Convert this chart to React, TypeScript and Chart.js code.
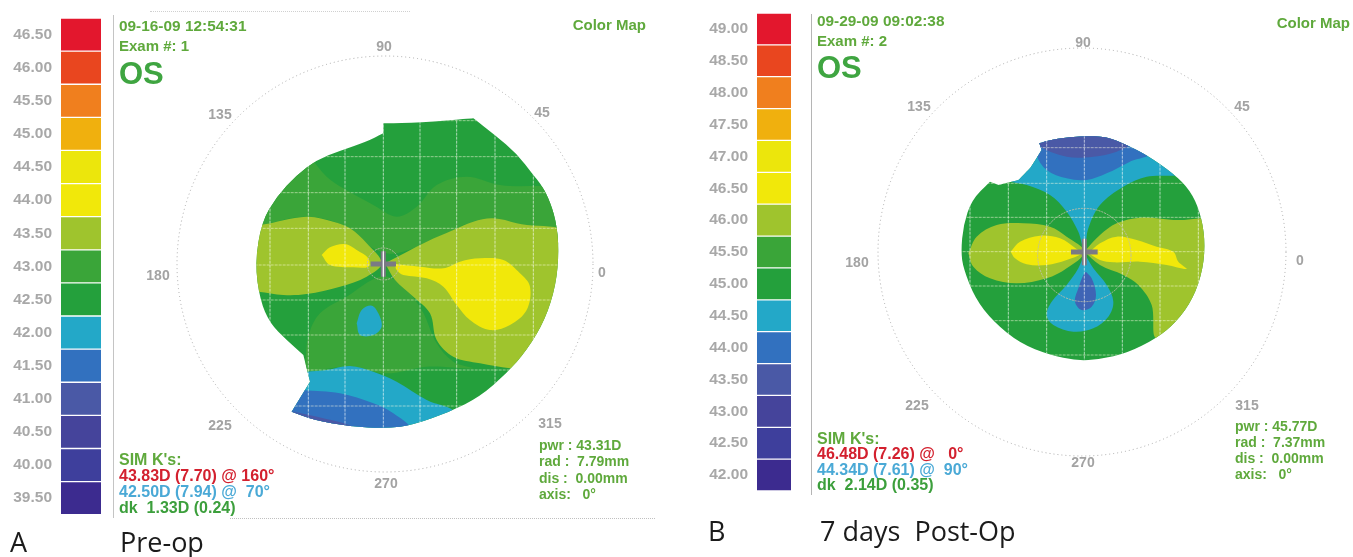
import React, { useEffect, useRef } from "react";
import { Chart, registerables } from "chart.js";

Chart.register(...registerables);

type P = [number, number];

const C = {
  deep: "#3c2b8f", indigo: "#3e3f9c", indigo2: "#45449b", slate: "#4a59a6", blue: "#3271bf", cyan: "#23a8c8",
  dark: "#24a03c", green: "#3aa539", lime: "#9fc42d", yellow: "#f1e80a", yellow2: "#ece60c",
  amber: "#f0b00e", orange: "#f07f1e", redorange: "#e9461f", red: "#e3172d", lowblue: "#3f64b5",
};

// Scale bars
const scaleA = ["46.50", "46.00", "45.50", "45.00", "44.50", "44.00", "43.50", "43.00", "42.50", "42.00", "41.50", "41.00", "40.50", "40.00", "39.50"];
const scaleB = ["49.00", "48.50", "48.00", "47.50", "47.00", "46.50", "46.00", "45.50", "45.00", "44.50", "44.00", "43.50", "43.00", "42.50", "42.00"];
const scaleColors = [C.red, C.redorange, C.orange, C.amber, C.yellow2, C.yellow, C.lime, C.green, C.dark, C.cyan, C.blue, C.slate, C.indigo2, C.indigo, C.deep];

// Bounds of the base colour that the outline clips
const baseField: P[] = [[-100, -100], [1100, -100], [1100, 1100], [-100, 1100]];

// Map A contours (map units); a repeated point is a sharp corner of the outline
const outlineA: P[] = [[430, 40], [430, 40], [540, 38], [700, 25], [700, 25], [765, 75], [830, 130], [880, 195], [900, 219], [924, 260], [948, 330], [957, 420], [948, 525], [915, 630], [861, 720], [800, 790], [720, 860], [630, 905], [520, 945], [440, 955], [330, 950], [220, 930], [155, 905], [155, 905], [210, 815], [210, 815], [190, 735], [190, 735], [140, 690], [90, 640], [60, 570], [45, 460], [65, 335], [110, 260], [170, 195], [230, 150], [300, 122], [380, 95], [430, 70], [430, 70]];
const midUpperA: P[] = [[210, 140], [260, 200], [310, 235], [400, 285], [470, 320], [530, 290], [590, 225], [680, 200], [780, 225], [1000, 250], [1000, 400], [700, 340], [620, 370], [470, 430], [390, 410], [320, 350], [200, 320], [60, 345], [0, 350], [0, 250], [120, 180]];
const midLowerA: P[] = [[195, 785], [205, 680], [240, 610], [320, 560], [420, 500], [480, 520], [545, 600], [590, 700], [640, 755], [700, 775], [560, 770], [440, 790], [330, 770]];
const limeLeftA: P[] = [[-10, 350], [60, 345], [200, 320], [280, 335], [330, 355], [380, 400], [425, 460], [380, 500], [300, 530], [200, 552], [130, 555], [55, 545], [-10, 540]];
const limeRightA: P[] = [[435, 460], [560, 395], [640, 360], [700, 335], [760, 325], [830, 340], [1000, 385], [1000, 800], [810, 775], [720, 760], [640, 740], [590, 690], [570, 610], [520, 560], [465, 510]];
const yellowLeftA: P[] = [[245, 435], [270, 412], [315, 402], [350, 420], [385, 445], [385, 470], [340, 472], [270, 465]];
const yellowRightA: P[] = [[465, 462], [540, 470], [610, 475], [660, 455], [720, 445], [790, 450], [840, 490], [870, 530], [860, 600], [810, 645], [750, 660], [690, 630], [650, 585], [610, 530], [560, 505], [490, 495], [470, 480]];
const cyanIslandA: P[] = [[350, 640], [365, 600], [395, 587], [415, 610], [425, 650], [400, 675], [360, 675]];
const cyanBottomA: P[] = [[200, 785], [260, 780], [330, 768], [400, 785], [470, 815], [560, 870], [640, 905], [560, 960], [140, 970], [140, 880]];
const blueBottomA: P[] = [[190, 840], [300, 850], [400, 880], [460, 910], [515, 960], [450, 980], [140, 980], [140, 900]];
const slateBottomA: P[] = [[150, 903], [250, 925], [340, 952], [340, 980], [140, 980]];
const gridXA = [90, 205, 315, 430, 540, 650, 765, 880];
const gridYA = [32, 140, 248, 355, 465, 570, 675, 780, 888];

// Map B contours (map units)
const outlineB: P[] = [[90, 170], [90, 170], [115, 180], [115, 180], [175, 165], [175, 165], [210, 130], [210, 130], [245, 75], [245, 75], [238, 55], [238, 55], [290, 40], [370, 33], [440, 35], [500, 60], [560, 90], [640, 145], [690, 195], [720, 260], [735, 340], [730, 430], [700, 520], [650, 590], [590, 640], [500, 685], [420, 703], [350, 707], [270, 690], [180, 655], [100, 590], [45, 520], [10, 430], [3, 380], [10, 300], [35, 225]];
const limeLeftB: P[] = [[25, 385], [50, 335], [110, 300], [190, 295], [270, 305], [320, 335], [373, 380], [320, 430], [260, 460], [170, 475], [90, 460], [40, 425]];
const limeRightB: P[] = [[373, 380], [420, 330], [470, 295], [540, 278], [640, 285], [800, 295], [800, 500], [700, 560], [590, 640], [575, 540], [535, 480], [490, 450], [420, 420]];
const yellowLeftB: P[] = [[152, 380], [180, 350], [240, 332], [300, 340], [350, 372], [365, 385], [320, 405], [260, 420], [200, 418], [165, 400]];
const yellowRightB: P[] = [[385, 385], [420, 355], [470, 335], [530, 345], [590, 365], [640, 380], [655, 410], [680, 432], [620, 420], [540, 410], [460, 412], [420, 405]];
const cyanTopB: P[] = [[150, 170], [210, 110], [245, 40], [500, 40], [660, 145], [560, 155], [490, 185], [420, 240], [385, 310], [373, 375], [355, 320], [320, 260], [270, 210], [200, 180]];
const blueTopB: P[] = [[230, 30], [230, 90], [260, 135], [320, 160], [380, 165], [440, 145], [510, 110], [570, 85], [500, 30]];
const slateTopB: P[] = [[225, 20], [235, 60], [320, 95], [400, 95], [470, 80], [510, 55], [440, 20]];
const cyanLowB: P[] = [[373, 385], [400, 430], [440, 480], [460, 530], [445, 575], [400, 610], [340, 620], [280, 600], [260, 570], [275, 530], [320, 480], [355, 430]];
const blueLowB: P[] = [[378, 440], [395, 460], [408, 510], [395, 545], [365, 555], [345, 530], [355, 490], [370, 450]];
const gridXB = [30, 145, 260, 373, 487, 600, 715];
const gridYB = [68, 175, 277, 380, 483, 587, 690];

const layersA: [P[], string][] = [
  [baseField, C.dark], [midUpperA, C.green], [midLowerA, C.green], [limeLeftA, C.lime], [limeRightA, C.lime],
  [yellowLeftA, C.yellow], [yellowRightA, C.yellow], [cyanIslandA, C.cyan], [cyanBottomA, C.cyan], [blueBottomA, C.blue], [slateBottomA, C.slate],
];
const layersB: [P[], string][] = [
  [baseField, C.dark], [limeLeftB, C.lime], [limeRightB, C.lime], [yellowLeftB, C.yellow], [yellowRightB, C.yellow],
  [cyanTopB, C.cyan], [blueTopB, C.blue], [slateTopB, C.slate], [cyanLowB, C.cyan], [blueLowB, C.lowblue],
];

type Txt = [string, number, number, string, number?, "c" | "r"?];
const GREEN = "#5fa93c", BLUE = "#4aa9d6", RED = "#d3202e", GREY = "#a3a3a3", DGREEN = "#3c9f3c";
const smallText: Txt[] = [
  ["09-16-09 12:54:31", 119, 26, GREEN, 15.4], ["Exam #: 1", 119, 45, GREEN, 15],
  ["Color Map", 646, 24, GREEN, 15, "r"],
  ["SIM K's:", 119, 460, GREEN, 16], ["43.83D (7.70) @ 160°", 119, 476, RED, 16], ["42.50D (7.94) @  70°", 119, 492, BLUE, 16], ["dk  1.33D (0.24)", 119, 508, DGREEN, 16],
  ["pwr : 43.31D", 539, 445, GREEN], ["rad :  7.79mm", 539, 461, GREEN], ["dis :  0.00mm", 539, 478, GREEN], ["axis:   0°", 539, 494, GREEN],
  ["09-29-09 09:02:38", 817, 21, GREEN, 15.4], ["Exam #: 2", 817, 40, GREEN, 15],
  ["Color Map", 1350, 22, GREEN, 15, "r"],
  ["SIM K's:", 817, 439, GREEN, 16], ["46.48D (7.26) @   0°", 817, 454, RED, 16], ["44.34D (7.61) @  90°", 817, 470, BLUE, 16], ["dk  2.14D (0.35)", 817, 485, DGREEN, 16],
  ["pwr : 45.77D", 1235, 426, GREEN], ["rad :  7.37mm", 1235, 442, GREEN], ["dis :  0.00mm", 1235, 458, GREEN], ["axis:   0°", 1235, 474, GREEN],
];
const angleText: Txt[] = [
  ["90", 384, 46, GREY, 14, "c"], ["135", 220, 114, GREY, 14, "c"], ["45", 542, 112, GREY, 14, "c"], ["180", 158, 275, GREY, 14, "c"],
  ["0", 602, 272, GREY, 14, "c"], ["225", 220, 425, GREY, 14, "c"], ["315", 550, 423, GREY, 14, "c"], ["270", 386, 483, GREY, 14, "c"],
  ["90", 1083, 42, GREY, 14, "c"], ["135", 919, 106, GREY, 14, "c"], ["45", 1242, 106, GREY, 14, "c"], ["180", 857, 262, GREY, 14, "c"],
  ["0", 1300, 260, GREY, 14, "c"], ["225", 917, 405, GREY, 14, "c"], ["315", 1247, 405, GREY, 14, "c"], ["270", 1083, 462, GREY, 14, "c"],
];
const NARROW = '"Liberation Sans",sans-serif';

function scaleChart(canvas: HTMLCanvasElement, labels: string[], left: number, pad: { top: number; bottom: number; right: number }) {
  return new Chart(canvas, {
    type: "bar",
    data: { labels, datasets: [{ data: labels.map(() => 1), backgroundColor: scaleColors, barPercentage: 0.96, categoryPercentage: 1 }] },
    options: {
      animation: false, responsive: false, devicePixelRatio: 1, indexAxis: "y",
      layout: { padding: pad },
      plugins: { legend: { display: false }, tooltip: { enabled: false } },
      scales: {
        x: { display: false, min: 0, max: 1 },
        y: {
          afterFit: (s: any) => { s.width = left; },
          border: { display: false }, grid: { display: false },
          ticks: { color: "#a8a8a8", padding: 1, font: { family: "Liberation Sans", size: 15.5, weight: "bold" } },
        },
      },
    },
  } as any);
}

function mapChart(
  canvas: HTMLCanvasElement, layers: [P[], string][], outline: P[], gx: number[], gy: number[],
  xr: P, yr: P, ring: [number, number, number], inner: [number, number, number], cross: [number, number, number],
) {
  const poly = (pts: P[], color: string, tension = 0.35) => ({
    data: [...pts, pts[0]].map(([x, y]) => ({ x, y })), showLine: true, fill: "shape", backgroundColor: color,
    borderWidth: 0, pointRadius: 0, tension,
  });
  const seg = (a: P, b: P, color: string, w: number) => ({
    data: [{ x: a[0], y: a[1] }, { x: b[0], y: b[1] }], showLine: true, fill: false, borderColor: color, borderWidth: w, pointRadius: 0,
  });
  const datasets: any[] = layers.map(([p, c], i) => poly(p, c, i === 0 ? 0 : 0.35));
  gx.forEach((x) => datasets.push({ ...seg([x, -100], [x, 1100], "rgba(255,255,255,0.62)", 1), borderDash: [3, 1] }));
  gy.forEach((y) => datasets.push({ ...seg([-100, y], [1100, y], "rgba(255,255,230,0.5)", 1), borderDash: [3, 1] }));
  const [cx, cy, arm] = cross;
  datasets.push(seg([cx - arm, cy], [cx + arm, cy], "#7a7a84", 5));
  datasets.push(seg([cx, cy - arm], [cx, cy + arm], "#7a7a84", 5));
  datasets.push(seg([cx, cy - arm], [cx, cy + arm], "rgba(255,255,255,0.75)", 1));
  datasets.reverse();
  const clipper = {
    id: "clipper",
    beforeDatasetsDraw(ch: any) {
      const { ctx, scales } = ch;
      const pts = outline.map(([x, y]) => [scales.x.getPixelForValue(x), scales.y.getPixelForValue(y)]);
      const mid = (p: number[], q: number[]) => [(p[0] + q[0]) / 2, (p[1] + q[1]) / 2];
      const start = mid(pts[pts.length - 1], pts[0]);
      ctx.save();
      ctx.beginPath();
      ctx.moveTo(start[0], start[1]);
      pts.forEach((p, i) => {
        const m = mid(p, pts[(i + 1) % pts.length]);
        ctx.quadraticCurveTo(p[0], p[1], m[0], m[1]);
      });
      ctx.closePath();
      ctx.clip();
    },
    afterDatasetsDraw(ch: any) {
      const { ctx, scales } = ch;
      ctx.restore();
      const k = scales.x.getPixelForValue(1) - scales.x.getPixelForValue(0);
      ctx.save();
      ctx.strokeStyle = "#a8a8a8"; ctx.lineWidth = 1; ctx.setLineDash([1, 3]);
      ctx.beginPath();
      ctx.arc(scales.x.getPixelForValue(ring[0]), scales.y.getPixelForValue(ring[1]), ring[2] * k, 0, Math.PI * 2);
      ctx.stroke();
      ctx.strokeStyle = "rgba(190,190,170,0.9)"; ctx.setLineDash([2, 1]);
      ctx.beginPath();
      ctx.arc(scales.x.getPixelForValue(inner[0]), scales.y.getPixelForValue(inner[1]), inner[2] * k, 0, Math.PI * 2);
      ctx.stroke();
      ctx.restore();
    },
  };
  return new Chart(canvas, {
    type: "scatter",
    data: { datasets },
    plugins: [clipper],
    options: {
      animation: false, responsive: false, devicePixelRatio: 1, layout: { padding: 0 },
      plugins: { legend: { display: false }, tooltip: { enabled: false } },
      scales: {
        x: { display: false, type: "linear", min: xr[0], max: xr[1] },
        y: { display: false, type: "linear", min: yr[0], max: yr[1], reverse: true },
      },
    },
  } as any);
}

const Label = ({ t }: { t: Txt }) => {
  const [s, x, y, color, size = 14, al] = t;
  const tx = al === "c" ? "-50%" : al === "r" ? "-100%" : "0";
  return (
    <div style={{ position: "absolute", left: x, top: y, transform: `translate(${tx},-50%)`, color, fontFamily: NARROW, fontWeight: 700, fontSize: size, whiteSpace: "pre", lineHeight: 1 }}>
      {s}
    </div>
  );
};

const big = { position: "absolute", fontFamily: '"Open Sans",sans-serif', fontSize: 27, color: "#1b1b1b", whiteSpace: "pre", lineHeight: 1, transform: "translateY(-50%)" } as const;
const os = { position: "absolute", fontFamily: "Liberation Sans", fontWeight: 700, fontSize: 31, color: "#3fa541", lineHeight: 1, transform: "translateY(-50%)" } as const;
const abs = (l: number, t: number) => ({ position: "absolute" as const, left: l, top: t });

export default function App() {
  const a = useRef<HTMLCanvasElement>(null), b = useRef<HTMLCanvasElement>(null);
  const c = useRef<HTMLCanvasElement>(null), d = useRef<HTMLCanvasElement>(null);
  useEffect(() => {
    const charts = [
      scaleChart(a.current!, scaleA, 61, { top: 18, bottom: 6, right: 4 }),
      scaleChart(b.current!, scaleB, 67, { top: 13, bottom: 34, right: 4 }),
      mapChart(c.current!, layersA, outlineA, gridXA, gridYA, [-390, 1245], [-330, 1245], [435, 462, 624], [430, 462, 48], [430, 462, 38]),
      mapChart(d.current!, layersB, outlineB, gridXB, gridYB, [-450, 1179], [-375, 1200], [366, 381, 612], [373, 390, 140], [373, 381, 40]),
    ];
    return () => charts.forEach((x) => x.destroy());
  }, []);
  return (
    <div style={{ position: "absolute", left: 0, top: 0, width: 1353, height: 557, background: "#fff", overflow: "hidden", filter: "blur(0.45px)" }}>
      <canvas ref={a} width={105} height={525} style={abs(0, 0)} />
      <canvas ref={b} width={105} height={525} style={abs(690, 0)} />
      <canvas ref={c} width={545} height={525} style={abs(110, 0)} />
      <canvas ref={d} width={543} height={525} style={abs(810, 0)} />
      <div style={{ ...abs(113, 15), width: 1, height: 503, background: "#c4c4c4" }} />
      <div style={{ ...abs(811, 14), width: 1, height: 481, background: "#b5b5b5" }} />
      <div style={{ ...abs(230, 518), width: 425, height: 0, borderTop: "1px dotted #c0c0c0" }} />
      <div style={{ ...abs(150, 11), width: 260, height: 0, borderTop: "1px dotted #d0d0d0" }} />
      {[...smallText, ...angleText].map((t, i) => <Label key={i} t={t} />)}
      <div style={{ ...os, left: 119, top: 73 }}>OS</div>
      <div style={{ ...os, left: 817, top: 67 }}>OS</div>
      <div style={{ ...big, left: 10, top: 541 }}>A</div>
      <div style={{ ...big, left: 120, top: 541 }}>Pre-op</div>
      <div style={{ ...big, left: 708, top: 530 }}>B</div>
      <div style={{ ...big, left: 820, top: 530 }}>7 days  Post-Op</div>
    </div>
  );
}
